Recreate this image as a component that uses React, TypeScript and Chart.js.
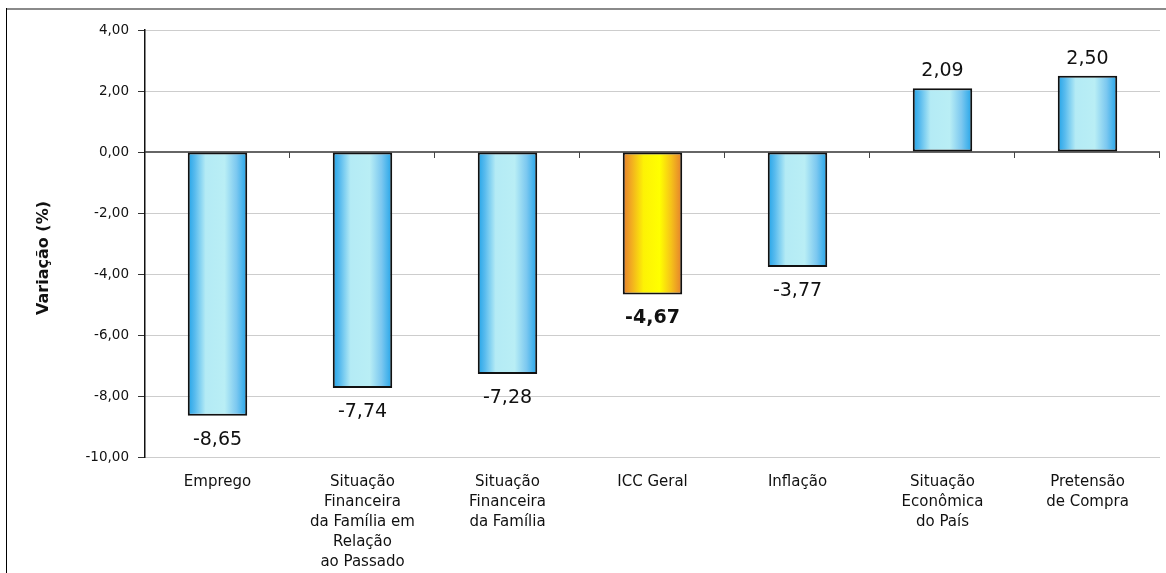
import { useEffect, useRef } from "react";
import { Chart, registerables } from "chart.js";

Chart.register(...registerables);

// Category labels (multi-line) along the bottom axis
const categories: string[][] = [
  ["Emprego"],
  ["Situação", "Financeira", "da Família em", "Relação", "ao Passado"],
  ["Situação", "Financeira", "da Família"],
  ["ICC Geral"],
  ["Inflação"],
  ["Situação", "Econômica", "do País"],
  ["Pretensão", "de Compra"],
];

// Monthly variation (%) of each index component
const variation: number[] = [-8.65, -7.74, -7.28, -4.67, -3.77, 2.09, 2.5];

// Index of the overall index bar, drawn in orange and labelled in bold
const highlightIndex = 3;

// Value axis range
const yMin = -10;
const yMax = 4;
const yStep = 2;

const yTitle = "Variação (%)";

const FONT = "'DejaVu Sans', Verdana, sans-serif";
const BAR_PCT = 0.41;

const fmt = (v: number) => v.toFixed(2).replace(".", ",");

const blueStops: [number, string][] = [
  [0, "#22a4e8"],
  [0.12, "#58bbee"],
  [0.3, "#b4ebf5"],
  [0.62, "#b9eef5"],
  [0.82, "#7cc8f0"],
  [1, "#22a4e8"],
];
const orangeStops: [number, string][] = [
  [0, "#e47e2e"],
  [0.15, "#f2ae20"],
  [0.35, "#fdf205"],
  [0.62, "#ffff00"],
  [0.82, "#f5c01a"],
  [1, "#e47e2e"],
];

const decorations = {
  id: "decorations",
  beforeDatasetsDraw(chart: any) {
    const { ctx, chartArea, scales } = chart;
    const y0 = scales.y.getPixelForValue(0);
    const catW = (chartArea.right - chartArea.left) / categories.length;
    ctx.save();
    // zero line
    ctx.strokeStyle = "#333333";
    ctx.lineWidth = 1.5;
    ctx.beginPath();
    ctx.moveTo(chartArea.left, y0);
    ctx.lineTo(chartArea.right, y0);
    ctx.stroke();
    // category separators on the zero line
    ctx.lineWidth = 1;
    ctx.strokeStyle = "#444444";
    for (let k = 1; k <= categories.length; k++) {
      const x = Math.round(chartArea.left + k * catW) - 0.5;
      ctx.beginPath();
      ctx.moveTo(x, y0);
      ctx.lineTo(x, y0 + 6);
      ctx.stroke();
    }
    ctx.restore();
  },
  afterDatasetsDraw(chart: any) {
    const { ctx } = chart;
    const meta = chart.getDatasetMeta(0);
    ctx.save();
    ctx.fillStyle = "#111111";
    ctx.textAlign = "center";
    ctx.textBaseline = "alphabetic";
    meta.data.forEach((bar: any, i: number) => {
      const v = variation[i];
      const { x, y } = bar.getProps(["x", "y"], true);
      ctx.font = `${i === highlightIndex ? "bold " : ""}19px ${FONT}`;
      const ty = v >= 0 ? y - 12 : y + 29;
      ctx.fillText(fmt(v), x, ty);
    });
    ctx.restore();
  },
  afterDraw(chart: any) {
    const { ctx, width, height } = chart;
    ctx.save();
    // outer frame
    ctx.fillStyle = "#8a8a8a";
    ctx.fillRect(6, 8, width - 6, 2);
    ctx.fillStyle = "#000000";
    ctx.fillRect(6, 8, 1, height - 8);
    // value axis title
    ctx.translate(44, 258);
    ctx.rotate(-Math.PI / 2);
    ctx.font = `bold 16px ${FONT}`;
    ctx.fillStyle = "#111111";
    ctx.textAlign = "center";
    ctx.textBaseline = "middle";
    ctx.fillText(yTitle, 0, 0);
    ctx.restore();
  },
};

function barFill(c: any) {
  const chart = c.chart;
  const i = c.dataIndex;
  const stops = i === highlightIndex ? orangeStops : blueStops;
  const xs = chart.scales?.x;
  if (c.type !== "data" || !xs || !xs.width) return stops[0][1];
  const cx = xs.getPixelForValue(i);
  const w = (xs.width / categories.length) * BAR_PCT;
  const g = chart.ctx.createLinearGradient(cx - w / 2, 0, cx + w / 2, 0);
  stops.forEach(([o, col]) => g.addColorStop(o, col));
  return g;
}

export default function App() {
  const ref = useRef<HTMLCanvasElement | null>(null);

  useEffect(() => {
    if (!ref.current) return;
    Chart.defaults.font.family = FONT;
    const chart = new Chart(ref.current, {
      type: "bar",
      data: {
        labels: categories,
        datasets: [
          {
            data: variation,
            backgroundColor: barFill as any,
            borderColor: "#111111",
            borderWidth: 2,
            borderSkipped: false,
            categoryPercentage: 1,
            barPercentage: BAR_PCT,
          },
        ],
      },
      options: {
        animation: false,
        responsive: false,
        devicePixelRatio: 1,
        layout: { padding: { top: 30, right: 6, left: 0, bottom: 0 } },
        plugins: {
          legend: { display: false },
          tooltip: { enabled: false },
        },
        scales: {
          x: {
            grid: { display: false, drawTicks: false },
            border: { display: false },
            ticks: {
              autoSkip: false,
              maxRotation: 0,
              minRotation: 0,
              padding: 15,
              color: "#111111",
              font: { size: 15, lineHeight: 1.33 },
            },
            afterFit(scale: any) {
              scale.height = 116;
            },
          },
          y: {
            min: yMin,
            max: yMax,
            ticks: {
              stepSize: yStep,
              padding: 9,
              color: "#111111",
              font: { size: 13.5 },
              callback: (v: any) => fmt(Number(v)),
            },
            grid: {
              color: (c: any) => (c.tick && c.tick.value === 0 ? "rgba(0,0,0,0)" : "#9a9a9a"),
              lineWidth: 1,
              tickLength: 7,
              tickColor: "#333333",
              tickWidth: 1,
            },
            border: { display: true, color: "#111111", width: 1.5, dash: [1, 1] },
            afterFit(scale: any) {
              scale.width = 145;
            },
          },
        },
      },
      plugins: [decorations],
    });
    return () => chart.destroy();
  }, []);

  return (
    <div style={{ position: "fixed", left: 0, top: 0, width: 1166, height: 573, background: "#ffffff" }}>
      <canvas ref={ref} width={1166} height={573} style={{ display: "block" }} />
    </div>
  );
}
